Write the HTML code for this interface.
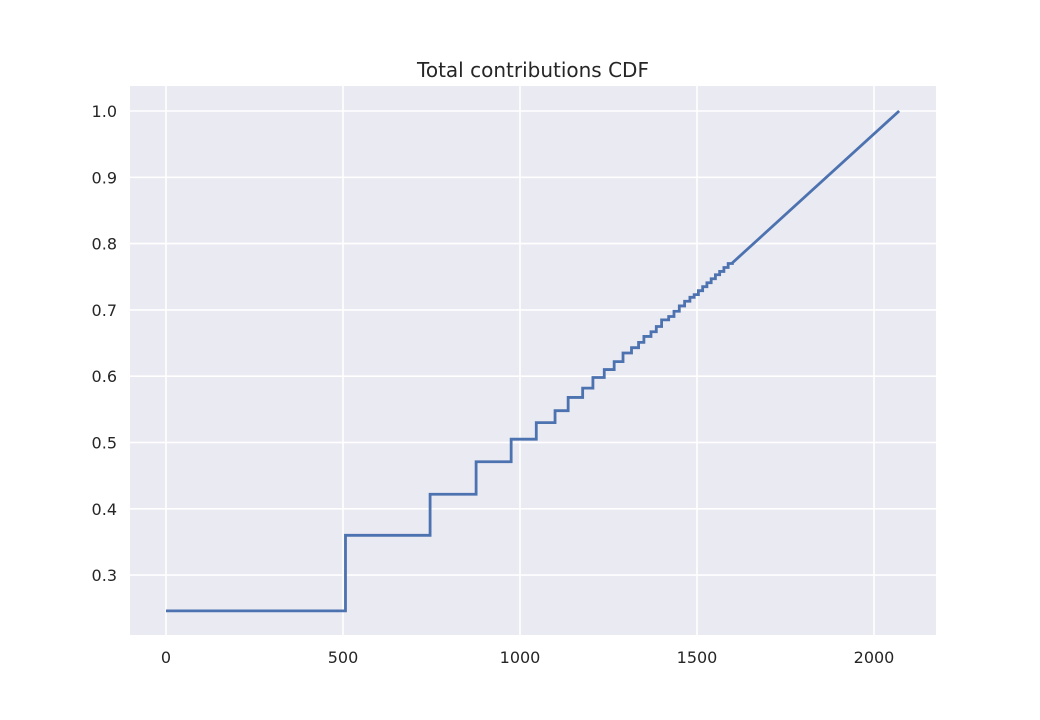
<!DOCTYPE html>
<html><head><meta charset="utf-8"><style>
body{margin:0;background:#fff;}
svg text{font-family:"DejaVu Sans","Liberation Sans",sans-serif;fill:#262626;}
</style></head><body>
<svg width="1040" height="715" id="chart">
<rect x="0" y="0" width="1040" height="715" fill="#fff"/>
<rect x="130" y="86" width="806" height="549" fill="#eaeaf2"/>
<g id="grid"></g><g id="ticks"></g>
<text x="533" y="77" font-size="20" text-anchor="middle">Total contributions CDF</text>
</svg>
<script>
const xTicks=[0,500,1000,1500,2000];
const yTicks=[0.3,0.4,0.5,0.6,0.7,0.8,0.9,1.0];
const stepX=[0,507,746,876,975,1046,1099,1136,1177,1206,1238,1266,1291,1315,1335,1350,1370,1385,1400,1420,1435,1450,1465,1480,1492,1504,1516,1528,1540,1552,1564,1576,1588,1600];
const stepY=[0.246,0.360,0.422,0.471,0.505,0.530,0.548,0.568,0.582,0.598,0.610,0.622,0.635,0.643,0.651,0.660,0.667,0.675,0.685,0.690,0.698,0.706,0.713,0.719,0.723,0.729,0.735,0.741,0.747,0.753,0.758,0.764,0.770,0.771];
const endX=2071, endY=1.0;
const ns="http://www.w3.org/2000/svg";
const svg=document.getElementById('chart');
const X=v=>166+v*0.354;
const Y=v=>111+(1-v)*663;
const grid=document.getElementById('grid'),tk=document.getElementById('ticks');
xTicks.forEach(t=>{
const l=document.createElementNS(ns,'line');


l.setAttribute('x1',X(t));l.setAttribute('x2',X(t));l.setAttribute('y1',86);l.setAttribute('y2',635);
l.setAttribute('stroke','#fff');l.setAttribute('stroke-width','1.6');grid.appendChild(l);
const tx=document.createElementNS(ns,'text');


tx.setAttribute('x',X(t));tx.setAttribute('y',663);tx.setAttribute('font-size','16');tx.setAttribute('text-anchor','middle');
tx.textContent=t;tk.appendChild(tx);
});
yTicks.forEach(t=>{
const l=document.createElementNS(ns,'line');


l.setAttribute('x1',130);l.setAttribute('x2',936);l.setAttribute('y1',Y(t));l.setAttribute('y2',Y(t));
l.setAttribute('stroke','#fff');l.setAttribute('stroke-width','1.6');grid.appendChild(l);
const tx=document.createElementNS(ns,'text');


tx.setAttribute('x',117);tx.setAttribute('y',Y(t)+6);tx.setAttribute('font-size','16');tx.setAttribute('text-anchor','end');
tx.textContent=t.toFixed(1);tk.appendChild(tx);
});
let d='M'+X(stepX[0])+','+Y(stepY[0]);
for(let i=1;i<stepX.length;i++){d+=' H'+X(stepX[i])+' V'+Y(stepY[i]);}
d+=' L'+X(endX)+','+Y(endY);
const p=document.createElementNS(ns,'path');


p.setAttribute('d',d);p.setAttribute('fill','none');p.setAttribute('stroke','#4c72b0');p.setAttribute('stroke-width','2.8');
svg.appendChild(p);
</script>
</body></html>
